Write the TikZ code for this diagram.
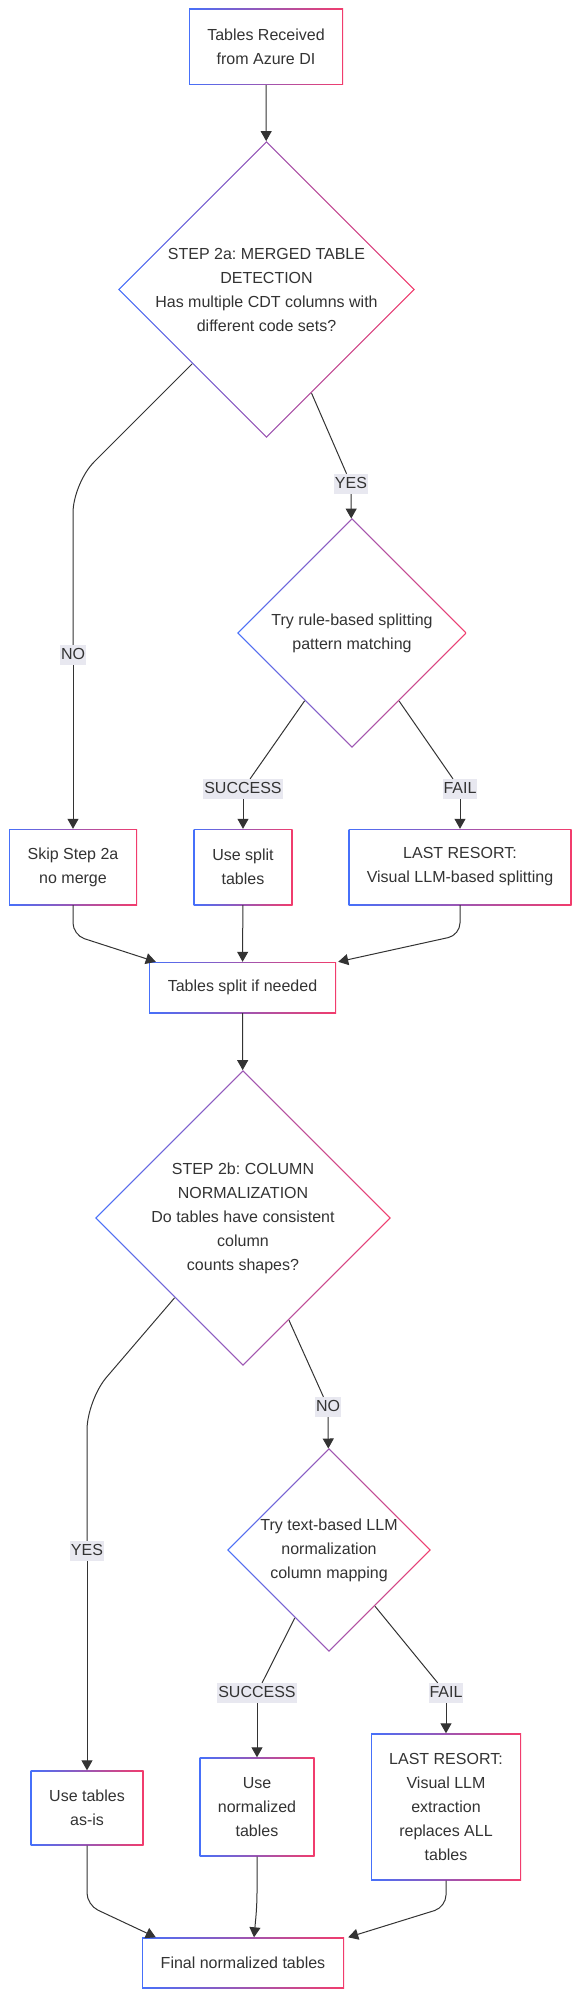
\documentclass[tikz,border=0pt]{standalone}
\usepackage{fontspec}
\setmainfont{Liberation Sans}
\usepackage{tikz}
\usetikzlibrary{shapes.geometric, arrows.meta}
\definecolor{GradLeft}{RGB}{70,112,250}
\definecolor{GradRight}{RGB}{242,60,108}
\definecolor{InkGrey}{RGB}{51,51,51}
\definecolor{LabelFill}{RGB}{232,232,240}
\frenchspacing

\begin{document}
\begin{tikzpicture}[
  x=1pt, y=-1pt,
  font=\fontsize{16}{24}\selectfont,
  text=InkGrey,
  procbox/.style={rectangle, align=center, inner sep=0pt, left color=GradLeft, right color=GradRight,
    path picture={\fill[white] ([shift={(1.3pt,1.3pt)}]path picture bounding box.south west) rectangle ([shift={(-1.3pt,-1.3pt)}]path picture bounding box.north east);}},
  decbox/.style={diamond, inner sep=0pt, minimum width=#1, minimum height=#1, left color=GradLeft, right color=GradRight,
    path picture={\fill[white] ([yshift=-1.7pt]path picture bounding box.north) -- ([xshift=-1.7pt]path picture bounding box.east) -- ([yshift=1.7pt]path picture bounding box.south) -- ([xshift=1.7pt]path picture bounding box.west) -- cycle;}},
  dectext/.style={align=center, text=InkGrey},
  edgelabel/.style={fill=LabelFill, inner xsep=1pt, inner ysep=2pt, text height=12pt, text depth=4pt},
  flowline/.style={draw=InkGrey, line width=1pt},
  flowarrow/.style={flowline, -{Triangle[length=10pt, width=11pt]}}
]
\useasboundingbox (0,0) rectangle (580,1999);

% step 2a
\node[procbox, minimum width=154pt, minimum height=76pt] (received) at (266,47) {Tables Received\\from Azure DI};
\node[decbox=297pt, label={[dectext]center:{STEP 2a: MERGED TABLE\\DETECTION\\Has multiple CDT columns with\\different code sets?}}] (mergecheck) at (266.5,289.5) {};
\node[decbox=230pt, label={[dectext]center:{Try rule-based splitting\\pattern matching}}] (rulesplit) at (352,633) {};
\node[procbox, minimum width=128pt, minimum height=76pt] (skipmerge) at (73,867) {Skip Step 2a\\no merge};
\node[procbox, minimum width=99pt, minimum height=76pt] (usesplit) at (243,867) {Use split\\tables};
\node[procbox, minimum width=223pt, minimum height=76pt] (visualsplit) at (460,867) {LAST RESORT:\\Visual LLM-based splitting};
\node[procbox, minimum width=187pt, minimum height=51pt] (splitdone) at (242.5,987.5) {Tables split if needed};

\node[edgelabel] (mergeno) at (73,655) {NO};
\node[edgelabel] (mergeyes) at (351,484) {YES};
\node[edgelabel] (splitok) at (243,789) {SUCCESS};
\node[edgelabel] (splitfail) at (460,789) {FAIL};

% step 2b
\node[decbox=296pt, label={[dectext]center:{STEP 2b: COLUMN\\NORMALIZATION\\Do tables have consistent\\column\\counts shapes?}}] (colcheck) at (243,1218) {};
\node[decbox=204pt, label={[dectext]center:{Try text-based LLM\\normalization\\column mapping}}] (llmnorm) at (329,1550) {};
\node[procbox, minimum width=113pt, minimum height=75pt] (useasis) at (87,1808) {Use tables\\as-is};
\node[procbox, minimum width=115pt, minimum height=99pt] (usenorm) at (257,1807) {Use\\normalized\\tables};
\node[procbox, minimum width=150pt, minimum height=147pt] (visualextract) at (446,1807) {LAST RESORT:\\Visual LLM\\extraction\\replaces ALL\\tables};
\node[procbox, minimum width=202pt, minimum height=51pt] (finaltables) at (243,1963) {Final normalized tables};

\node[edgelabel] (colyes) at (87,1551) {YES};
\node[edgelabel] (colno) at (328,1407) {NO};
\node[edgelabel] (normok) at (257,1693) {SUCCESS};
\node[edgelabel] (normfail) at (446,1693) {FAIL};

\draw[flowarrow] (received) -- (mergecheck);
\draw[flowline, rounded corners=30pt] (mergecheck) -- (73,483) -- (mergeno);
\draw[flowarrow] (mergeno) -- (skipmerge);
\draw[flowline] (mergecheck) -- (mergeyes);
\draw[flowarrow] (mergeyes) -- (rulesplit);
\draw[flowline] (rulesplit) -- (splitok);
\draw[flowarrow] (splitok) -- (usesplit);
\draw[flowline] (rulesplit) -- (splitfail);
\draw[flowarrow] (splitfail) -- (visualsplit);
\draw[flowarrow, rounded corners=12pt] (skipmerge) -- (73,935) -- ([xshift=7pt]splitdone.north west);
\draw[flowarrow] (usesplit) -- (splitdone);
\draw[flowarrow, rounded corners=12pt] (visualsplit) -- (460,935) -- ([xshift=2pt]splitdone.north east);
\draw[flowarrow] (splitdone) -- (colcheck);

\draw[flowline, rounded corners=30pt] (colcheck) -- (87,1400) -- (colyes);
\draw[flowarrow] (colyes) -- (useasis);
\draw[flowline] (colcheck) -- (colno);
\draw[flowarrow] (colno) -- (llmnorm);
\draw[flowline] (llmnorm) -- (normok);
\draw[flowarrow] (normok) -- (usenorm);
\draw[flowline] (llmnorm) -- (normfail);
\draw[flowarrow] (normfail) -- (visualextract);
\draw[flowarrow, rounded corners=12pt] (useasis) -- (87,1905) -- ([xshift=14pt]finaltables.north west);
\draw[flowarrow, rounded corners=12pt] (usenorm) -- (257,1905) -- ([xshift=11pt]finaltables.north);
\draw[flowarrow, rounded corners=12pt] (visualextract) -- (446,1907) -- ([xshift=4pt]finaltables.north east);
\end{tikzpicture}
\end{document}
